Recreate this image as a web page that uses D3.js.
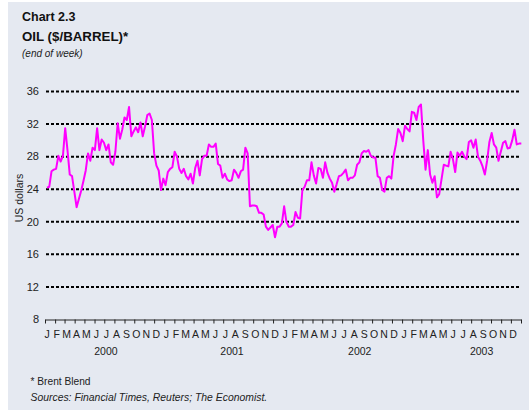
<!DOCTYPE html>
<html>
<head>
<meta charset="utf-8">
<script src="https://cdn.jsdelivr.net/npm/d3@7"></script>
<style>
  body { margin: 0; background: #fff; }
  svg { display: block; font-family: "Liberation Sans", Arial, sans-serif; }
</style>
</head>
<body>
<svg id="chart" width="529" height="413"></svg>
<script>
// weekly Brent price, $/barrel, first Friday of 2000 onwards
const prices = [
  24.2, 24.3, 26.2, 26.4, 26.5, 28.1, 27.4, 28.1, 31.5, 28.8,
  25.8, 25.6, 23.7, 21.8, 22.8, 23.8, 25.0, 26.3, 28.4, 27.5,
  29.1, 28.8, 31.5, 28.8, 30.1, 29.7, 28.8, 29.5, 27.3, 27.0,
  28.6, 32.1, 30.2, 31.3, 32.8, 32.5, 34.1, 30.5, 31.1, 31.6,
  31.0, 32.2, 30.5, 31.7, 33.1, 33.3, 32.5, 28.4, 26.9, 26.3,
  23.9, 25.3, 24.5, 26.1, 26.5, 26.7, 28.6, 28.0, 26.5, 26.0,
  26.5, 25.6, 25.2, 25.9, 24.7, 26.6, 27.5, 25.7, 27.7, 28.1,
  28.1, 29.5, 29.2, 29.2, 29.6, 27.1, 26.9, 25.4, 25.9, 25.2,
  25.0, 25.1, 26.4, 26.0, 25.4, 26.2, 26.4, 29.1, 28.4, 21.9,
  22.0, 22.0, 21.9, 21.1, 21.1, 20.9, 19.4, 19.0, 19.3, 19.6,
  18.1, 19.4, 19.4, 19.8, 21.9, 20.0, 19.4, 19.4, 19.6, 21.2,
  20.5, 20.4, 23.9, 24.3, 25.1, 25.1, 27.3, 25.7, 24.7, 26.6,
  26.5, 25.4, 27.3, 26.0, 25.3, 24.8, 23.7, 24.6, 25.6, 25.7,
  26.0, 26.4, 25.1, 25.4, 25.4, 25.7, 27.0, 27.3, 28.4, 28.7,
  28.6, 28.8, 28.1, 27.9, 27.9, 25.6, 25.4, 23.9, 23.7, 25.4,
  25.6, 25.3, 28.1, 29.5, 31.4, 30.9, 29.9, 31.8, 31.4, 31.1,
  33.5, 33.4, 32.5, 34.1, 34.4, 30.0, 26.4, 28.8, 25.8, 24.8,
  25.6, 23.0, 23.4, 25.2, 27.0, 26.9, 26.8, 28.6, 27.7, 26.1,
  28.5, 28.1, 28.6, 28.0, 27.7, 29.8, 30.0, 29.1, 30.1, 28.0,
  27.5, 26.8, 25.8, 27.5, 29.8, 30.9, 29.5, 29.1, 27.5, 28.6,
  29.7, 29.9, 29.0, 29.1, 30.0, 31.3, 29.5, 29.6, 29.6
];
const firstWeek = new Date(2000, 0, 7);
const yTicks = [8, 12, 16, 20, 24, 28, 32, 36];
const monthLetters = ["J", "F", "M", "A", "M", "J", "J", "A", "S", "O", "N", "D"];
const years = ["2000", "2001", "2002", "2003"];
const yearLabelDates = ["2000-07-06", "2001-07-28", "2002-08-24", "2003-09-02"];

const svg = d3.select("#chart");
const parse = d3.timeParse("%Y-%m-%d");

svg.append("rect")
  .attr("x", 8).attr("y", 2)
  .attr("width", 521).attr("height", 408)
  .attr("fill", "#e5e9f1");

// titles
svg.append("text").attr("x", 22).attr("y", 20.5)
  .attr("font-size", "12.5px").attr("font-weight", "bold").attr("fill", "#111")
  .text("Chart 2.3");
svg.append("text").attr("x", 22).attr("y", 40.5)
  .attr("font-size", "13.3px").attr("font-weight", "bold").attr("fill", "#111")
  .text("OIL ($/BARREL)*");
svg.append("text").attr("x", 22).attr("y", 56.5)
  .attr("font-size", "10px").attr("font-style", "italic").attr("fill", "#222")
  .text("(end of week)");

const x = d3.scaleTime()
  .domain([new Date(2000, 0, 1), new Date(2004, 0, 1)])
  .range([45, 521]);
const y = d3.scaleLinear()
  .domain([8, 36])
  .range([319.5, 91.5]);

// dotted grid
svg.append("g").selectAll("line")
  .data(yTicks.filter(d => d > 8))
  .enter().append("line")
  .attr("x1", 46).attr("x2", 520)
  .attr("y1", d => y(d)).attr("y2", d => y(d))
  .attr("stroke", "#000")
  .attr("stroke-width", 2)
  .attr("stroke-dasharray", "3,2");

// y labels
svg.append("g").selectAll("text")
  .data(yTicks)
  .enter().append("text")
  .attr("x", 39).attr("y", d => y(d) + 3.8)
  .attr("text-anchor", "end")
  .attr("font-size", "11px").attr("fill", "#222")
  .text(d => d);

svg.append("text")
  .attr("transform", "translate(23,198) rotate(-90)")
  .attr("text-anchor", "middle")
  .attr("font-size", "10.5px").attr("fill", "#222")
  .text("US dollars");

// x axis with month ticks
const months = d3.timeMonth.range(new Date(2000, 0, 1), new Date(2004, 0, 1));
const xAxis = d3.axisBottom(x)
  .tickValues(months.concat([new Date(2004, 0, 1)]))
  .tickSize(4)
  .tickSizeOuter(0)
  .tickFormat("");
const axisG = svg.append("g")
  .attr("transform", `translate(0,${y(8)})`)
  .call(xAxis);
axisG.select(".domain").attr("stroke", "#222");
axisG.selectAll(".tick line").attr("stroke", "#222");

svg.append("g").selectAll("text")
  .data(months)
  .enter().append("text")
  .attr("x", d => (x(d) + x(d3.timeMonth.offset(d, 1))) / 2 - 3)
  .attr("y", 338)
  .attr("text-anchor", "middle")
  .attr("font-size", "10.5px").attr("fill", "#222")
  .text(d => monthLetters[d.getMonth()]);

svg.append("g").selectAll("text")
  .data(years)
  .enter().append("text")
  .attr("x", (d, i) => x(parse(yearLabelDates[i])))
  .attr("y", 355)
  .attr("text-anchor", "middle")
  .attr("font-size", "10.5px").attr("fill", "#222")
  .text(d => d);

// price line
const line = d3.line()
  .x((d, i) => x(d3.timeDay.offset(firstWeek, 7 * i)))
  .y(d => y(d));
svg.append("path")
  .datum(prices)
  .attr("d", line)
  .attr("fill", "none")
  .attr("stroke", "#ff00ff")
  .attr("stroke-width", 2)
  .attr("stroke-linejoin", "round");

// footnotes
svg.append("text").attr("x", 30.5).attr("y", 385)
  .attr("font-size", "10.2px").attr("fill", "#222")
  .text("* Brent Blend");
svg.append("text").attr("x", 30.5).attr("y", 401)
  .attr("font-size", "10.4px").attr("font-style", "italic").attr("fill", "#222")
  .text("Sources: Financial Times, Reuters; The Economist.");
</script>
</body>
</html>
